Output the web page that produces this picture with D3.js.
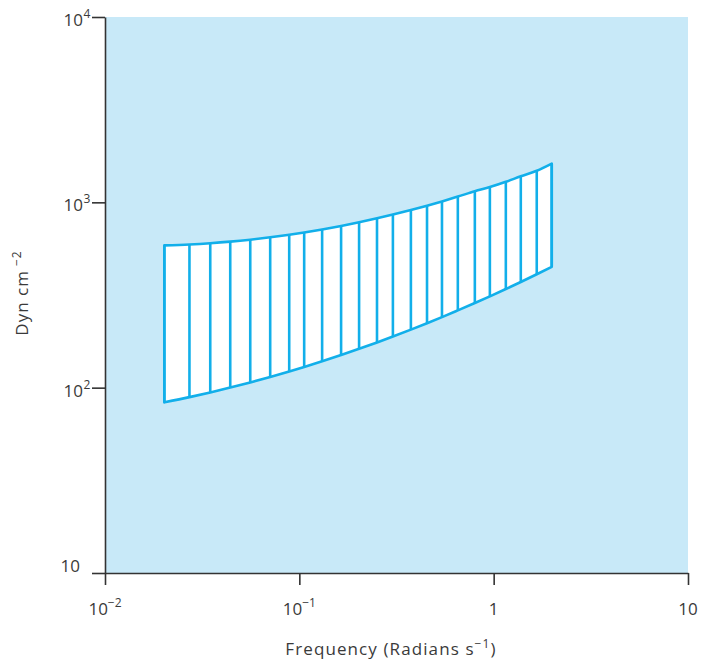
<!DOCTYPE html>
<html>
<head>
<meta charset="utf-8">
<script src="https://cdn.jsdelivr.net/npm/d3@7"></script>
<style>
  html, body { margin: 0; padding: 0; background: #ffffff; }
  svg { display: block; }
  text { font-family: "Open Sans", "Lato", sans-serif; fill: #3a3a3a; }
</style>
</head>
<body>
<svg id="chart" width="703" height="660"></svg>
<script>
// ---- data ----
const frequency = [0.0202, 0.0272, 0.0348, 0.0441, 0.0559, 0.0708, 0.0887, 0.1059, 0.131, 0.164,
                   0.203, 0.251, 0.303, 0.375, 0.454, 0.542, 0.654, 0.800, 0.956, 1.155,
                   1.379, 1.666, 1.99];
const upperDyn = [585.6, 592.5, 601.7, 613.6, 628.8, 647.4, 668.5, 687.8, 714.2, 746.1,
                  780.9, 820.3, 859.8, 909.9, 959.8, 1011.9, 1073.9, 1147.8, 1208.3, 1290.4,
                  1382.4, 1480.3, 1619];
const lowerDyn = [83.3, 88.9, 94.3, 100.1, 106.7, 114.2, 122.3, 129.4, 138.8, 150.0,
                  162.0, 175.4, 188.8, 205.7, 222.6, 240.2, 261.2, 286.2, 311.0, 340.6,
                  371.7, 409.1, 448.6];

const xTickValues = [0.01, 0.1, 1, 10];
const xTickBase = ["10", "10", "1", "10"];
const xTickExp = ["\u22122", "\u22121", "", ""];
const yTickValues = [10, 100, 1000, 10000];
const yTickBase = ["10", "10", "10", "10"];
const yTickExp = ["", "2", "3", "4"];

const xTitle = "Frequency (Radians s";
const xTitleExp = "\u22121";
const yTitle = "Dyn cm";
const yTitleExp = "\u22122";

(function () {
// ---- layout ----
const svg = d3.select("#chart");
const pLeft = 105, pRight = 688, pTop = 17, pBottom = 573;
const x = d3.scaleLog().domain([0.01, 10]).range([pLeft, pRight]);
const y = d3.scaleLog().domain([10, 10000]).range([pBottom, pTop]);
const lineColor = "#12afea";

svg.append("rect")
  .attr("x", pLeft).attr("y", pTop)
  .attr("width", pRight - pLeft).attr("height", pBottom - pTop)
  .attr("fill", "#c8e9f8");

const pts = frequency.map((f, i) => ({ f, hi: upperDyn[i], lo: lowerDyn[i] }));

// band
const area = d3.area()
  .curve(d3.curveMonotoneX)
  .x(d => x(d.f))
  .y0(d => y(d.lo))
  .y1(d => y(d.hi));
svg.append("path")
  .datum(pts)
  .attr("d", area)
  .attr("fill", "#ffffff")
  .attr("stroke", lineColor)
  .attr("stroke-width", 2.6)
  .attr("stroke-linejoin", "round");

// vertical hatching
svg.append("g").selectAll("line")
  .data(pts)
  .join("line")
  .attr("x1", d => x(d.f)).attr("x2", d => x(d.f))
  .attr("y1", d => y(d.lo)).attr("y2", d => y(d.hi))
  .attr("stroke", lineColor)
  .attr("stroke-width", 2.6);

// axes
const axisColor = "#333333";
const gy = svg.append("g").attr("transform", `translate(${pLeft},0)`)
  .call(d3.axisLeft(y).tickValues(yTickValues).tickSize(13).tickSizeOuter(0).tickFormat(""));
const gx = svg.append("g").attr("transform", `translate(0,${pBottom})`)
  .call(d3.axisBottom(x).tickValues(xTickValues).tickSize(12).tickSizeOuter(0).tickFormat(""));
[gx, gy].forEach(g => {
  g.selectAll("path, line").attr("stroke", axisColor).attr("stroke-width", 1.6);
});

// y tick labels
yTickValues.forEach((v, i) => {
  const hasExp = !!yTickExp[i];
  const yy = y(v) + (i === 0 ? -1 : 9);
  svg.append("text")
    .attr("x", hasExp ? 83 : 80).attr("y", yy)
    .attr("text-anchor", "end")
    .attr("font-size", 17)
    .text(yTickBase[i]);
  if (hasExp) {
    svg.append("text")
      .attr("x", 83.5).attr("y", yy - 8)
      .attr("font-size", 12)
      .text(yTickExp[i]);
  }
});

// x tick labels
xTickValues.forEach((v, i) => {
  const t = svg.append("text")
    .attr("x", x(v)).attr("y", 615)
    .attr("text-anchor", "middle")
    .attr("font-size", 17);
  t.append("tspan").text(xTickBase[i]);
  if (xTickExp[i]) {
    t.append("tspan").attr("dy", -8).attr("font-size", 12).text(xTickExp[i]);
  }
});

// axis titles
const xt = svg.append("text")
  .attr("x", 391).attr("y", 655)
  .attr("text-anchor", "middle")
  .attr("font-size", 17)
  .attr("letter-spacing", 1.1);
xt.append("tspan").text(xTitle);
xt.append("tspan").attr("dy", -7).attr("font-size", 12).text(xTitleExp);
xt.append("tspan").attr("dy", 7).text(")");

const yt = svg.append("text")
  .attr("transform", "translate(28,293) rotate(-90)")
  .attr("text-anchor", "middle")
  .attr("font-size", 17)
  .attr("letter-spacing", 1);
yt.append("tspan").text(yTitle);
yt.append("tspan").attr("dy", -7).attr("font-size", 12).text(" " + yTitleExp);
})();
</script>
</body>
</html>
